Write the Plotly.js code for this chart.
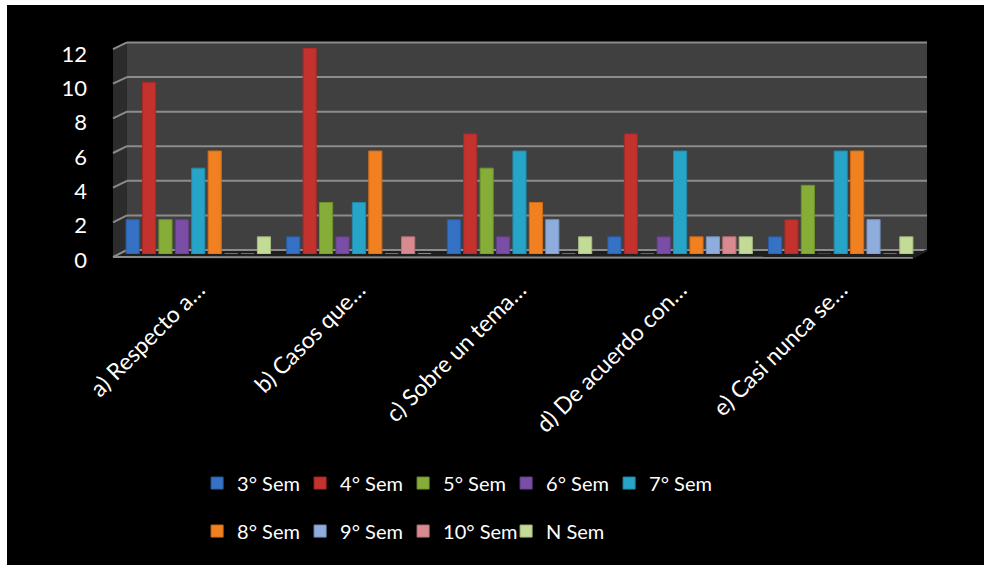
<!DOCTYPE html>
<html>
<head>
<meta charset="utf-8">
<script src="https://cdn.plot.ly/plotly-3.0.1.min.js"></script>
<style>
  html, body { margin: 0; padding: 0; background: #ffffff; width: 984px; height: 565px; overflow: hidden; }
  #frame { position: absolute; left: 7px; top: 5px; width: 977px; height: 560px; background: #000000; }
  #chart { width: 977px; height: 560px; }
</style>
</head>
<body>
<div id="frame"><div id="chart"></div></div>
<script>
// ---- data ----
const categories = ["a) Respecto a…", "b) Casos que…", "c) Sobre un tema…", "d) De acuerdo con…", "e) Casi nunca se…"];
const seriesNames = ["3° Sem", "4° Sem", "5° Sem", "6° Sem", "7° Sem", "8° Sem", "9° Sem", "10° Sem", "N Sem"];
const sem3  = [2, 1, 2, 1, 1];
const sem4  = [10, 12, 7, 7, 2];
const sem5  = [2, 3, 5, 0, 4];
const sem6  = [2, 1, 1, 1, 0];
const sem7  = [5, 3, 6, 6, 6];
const sem8  = [6, 6, 3, 1, 6];
const sem9  = [0, 0, 2, 1, 2];
const sem10 = [0, 1, 0, 1, 0];
const semN  = [1, 0, 1, 1, 1];
const yTicks = [0, 2, 4, 6, 8, 10, 12];

// ---- styles ----
const seriesValues = [sem3, sem4, sem5, sem6, sem7, sem8, sem9, sem10, semN];
const colors = ["#3571c4", "#c4322e", "#86ad38", "#7a4ea6", "#27a5c9", "#f08020", "#8eaddc", "#d98a8e", "#c4db97"];
const lineColors = ["#2a5da3", "#a52824", "#6e922c", "#634088", "#1f8aa8", "#cf6c18", "#7593c0", "#b97478", "#a5bb7f"];
const FONT = "Lato, 'Open Sans', sans-serif";
const YMAX = 12;

const traces = seriesValues.map((vals, i) => ({
  type: "bar",
  name: seriesNames[i],
  x: categories,
  y: vals,
  textposition: "none",
  legend: i < 5 ? "legend" : "legend2",
  marker: { color: colors[i], line: { color: lineColors[i], width: 1 } },
  hoverinfo: "skip"
}));

const legendCommon = {
  orientation: "h",
  xanchor: "left",
  yanchor: "middle",
  x: 0.0985,
  bgcolor: "rgba(0,0,0,0)",
  borderwidth: 0,
  font: { family: FONT, size: 20, color: "#ffffff" },
  entrywidth: 58,
  entrywidthmode: "pixels",
  itemclick: false,
  itemdoubleclick: false,
  traceorder: "normal"
};

// ---- decorative 3D frame (paper coordinates) ----
const WALL_X0 = -0.0062, WALL_X1 = 0.0112, BACK_RIGHT = 1.0075, FRONT_RIGHT = 0.990;
const BACK_Y0 = 0.0194, BACK_Y1 = 1.027, FRONT_Y0 = -0.0146, FRONT_Y1 = 0.995;
const backY = v => BACK_Y0 + v / YMAX * (BACK_Y1 - BACK_Y0);
const frontY = v => FRONT_Y0 + v / YMAX * (FRONT_Y1 - FRONT_Y0);

const shapes = [
  // back wall
  { type: "rect", xref: "paper", yref: "paper", layer: "below",
    x0: WALL_X1, x1: BACK_RIGHT, y0: BACK_Y0, y1: BACK_Y1,
    fillcolor: "#404040", line: { width: 0 } },
  // left side wall
  { type: "path", xref: "paper", yref: "paper", layer: "below",
    path: `M ${WALL_X0} ${FRONT_Y0} L ${WALL_X1} ${BACK_Y0} L ${WALL_X1} ${BACK_Y1} L ${WALL_X0} ${FRONT_Y1} Z`,
    fillcolor: "#2c2c2c", line: { width: 0 } },
  // floor
  { type: "path", xref: "paper", yref: "paper", layer: "below",
    path: `M ${WALL_X0} ${FRONT_Y0} L ${WALL_X1} ${BACK_Y0} L ${BACK_RIGHT} ${BACK_Y0} L ${FRONT_RIGHT} ${FRONT_Y0 - 0.004} Z`,
    fillcolor: "#1e1e1e", line: { width: 0 } },
  // floor front edge
  { type: "line", xref: "paper", yref: "paper", layer: "above",
    x0: WALL_X0, x1: FRONT_RIGHT, y0: FRONT_Y0, y1: FRONT_Y0 - 0.004,
    line: { color: "#8c8c8c", width: 2 } },
  // floor right edge
  { type: "line", xref: "paper", yref: "paper", layer: "above",
    x0: FRONT_RIGHT, x1: BACK_RIGHT, y0: FRONT_Y0 - 0.004, y1: BACK_Y0,
    line: { color: "#1e1e1e", width: 2 } }
];
yTicks.forEach(v => {
  shapes.push({ type: "line", xref: "paper", yref: "paper", layer: "below",
    x0: WALL_X1, x1: BACK_RIGHT, y0: backY(v), y1: backY(v),
    line: { color: "#8c8c8c", width: 2 } });
  shapes.push({ type: "line", xref: "paper", yref: "paper", layer: "below",
    x0: WALL_X0, x1: WALL_X1, y0: frontY(v), y1: backY(v),
    line: { color: "#8c8c8c", width: 2 } });
});

const layout = {
  width: 977,
  height: 560,
  paper_bgcolor: "#000000",
  plot_bgcolor: "rgba(0,0,0,0)",
  margin: { l: 111, r: 63, t: 43, b: 311 },
  barmode: "group",
  bargap: 0.08,
  bargroupgap: 0.2,
  font: { family: FONT, color: "#ffffff" },
  xaxis: {
    type: "category",
    categoryorder: "array",
    categoryarray: categories,
    tickangle: -45,
    tickfont: { family: FONT, size: 23, color: "#ffffff" },
    ticklabelstandoff: 17,
    ticklabelshift: 0,
    showgrid: false,
    zeroline: false,
    showline: false,
    ticks: ""
  },
  yaxis: {
    range: [0, YMAX],
    tickvals: yTicks,
    ticktext: yTicks.map(String),
    tickfont: { family: FONT, size: 22, color: "#ffffff" },
    showgrid: false,
    zeroline: false,
    showline: false,
    ticks: "",
    ticklabelstandoff: 30,
    ticklabelshift: 6
  },
  legend: Object.assign({}, legendCommon, { y: -1.112 }),
  legend2: Object.assign({}, legendCommon, { y: -1.345 }),
  shapes: shapes,
  showlegend: true
};

Plotly.newPlot("chart", traces, layout, { displayModeBar: false, staticPlot: true });
</script>
</body>
</html>
